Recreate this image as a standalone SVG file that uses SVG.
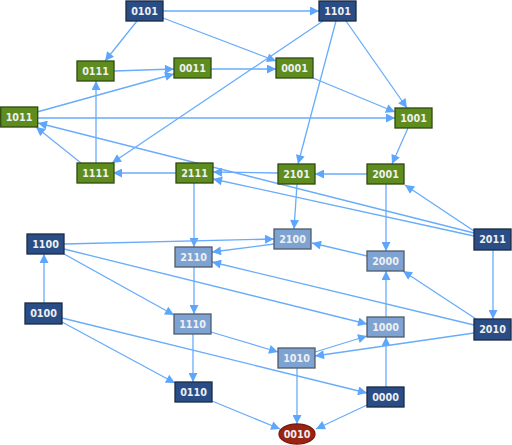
<svg xmlns="http://www.w3.org/2000/svg" width="512" height="445" viewBox="0 0 512 445">
<style>
.e{stroke:#68acfb;stroke-width:1.3;fill:none;marker-end:url(#a)}
.n rect,.n ellipse{stroke-width:1.3}
.db rect{fill:#2b4d85;stroke:#1a2a44}
.gr rect{fill:#5f8c1e;stroke:#2f4a0e}
.lb rect{fill:#7ea3d2;stroke:#4f5b68}
.rd ellipse{fill:#9a2414;stroke:#7a1a0c}
text{font-family:"DejaVu Sans","Liberation Sans",sans-serif;font-size:9.6px;font-weight:bold;fill:#eef0f2;text-anchor:middle}
</style>
<defs>
<marker id="a" viewBox="0 0 10 10" refX="10" refY="5" markerWidth="10" markerHeight="9" orient="auto" markerUnits="userSpaceOnUse">
<path d="M0,0 L10,5 L0,10 z" fill="#5ea6fb"/>
</marker>
</defs>
<rect width="512" height="445" fill="#fff"/>
<g id="connectors">
<line class="e" x1="163" y1="11" x2="319" y2="11"/>
<line class="e" x1="137" y1="21" x2="105" y2="61"/>
<line class="e" x1="163" y1="18" x2="276" y2="61"/>
<line class="e" x1="323" y1="21" x2="112" y2="163"/>
<line class="e" x1="336" y1="21" x2="298" y2="164"/>
<line class="e" x1="346" y1="21" x2="407" y2="108"/>
<line class="e" x1="114" y1="71" x2="174" y2="69"/>
<line class="e" x1="211" y1="69" x2="276" y2="69"/>
<line class="e" x1="37" y1="112" x2="174" y2="74"/>
<line class="e" x1="37" y1="118" x2="395" y2="118"/>
<line class="e" x1="313" y1="78" x2="395" y2="112"/>
<line class="e" x1="96" y1="163" x2="96" y2="81"/>
<line class="e" x1="81" y1="163" x2="36" y2="127"/>
<line class="e" x1="176" y1="173" x2="113" y2="173"/>
<line class="e" x1="474" y1="233" x2="38" y2="123"/>
<line class="e" x1="474" y1="236" x2="213" y2="179"/>
<line class="e" x1="278" y1="173" x2="213" y2="172"/>
<line class="e" x1="367" y1="174" x2="315" y2="174"/>
<line class="e" x1="408" y1="128" x2="392" y2="164"/>
<line class="e" x1="474" y1="231" x2="405" y2="185"/>
<line class="e" x1="386" y1="184" x2="386" y2="251"/>
<line class="e" x1="297" y1="184" x2="294" y2="229"/>
<line class="e" x1="194" y1="183" x2="194" y2="247"/>
<line class="e" x1="64" y1="244" x2="274" y2="239"/>
<line class="e" x1="274" y1="244" x2="212" y2="252"/>
<line class="e" x1="367" y1="256" x2="312" y2="243"/>
<line class="e" x1="474" y1="325" x2="212" y2="262"/>
<line class="e" x1="64" y1="254" x2="174" y2="315"/>
<line class="e" x1="64" y1="249" x2="367" y2="324"/>
<line class="e" x1="44" y1="303" x2="44" y2="254"/>
<line class="e" x1="62" y1="322" x2="175" y2="383"/>
<line class="e" x1="62" y1="318" x2="367" y2="393"/>
<line class="e" x1="194" y1="267" x2="194" y2="314"/>
<line class="e" x1="193" y1="334" x2="193" y2="382"/>
<line class="e" x1="211" y1="332" x2="278" y2="352"/>
<line class="e" x1="212" y1="401" x2="280" y2="429"/>
<line class="e" x1="297" y1="368" x2="297" y2="424"/>
<line class="e" x1="367" y1="405" x2="316" y2="429"/>
<line class="e" x1="386" y1="387" x2="386" y2="337"/>
<line class="e" x1="386" y1="317" x2="386" y2="271"/>
<line class="e" x1="476" y1="319" x2="403" y2="271"/>
<line class="e" x1="493" y1="250" x2="493" y2="319"/>
<line class="e" x1="474" y1="333" x2="315" y2="356"/>
<line class="e" x1="315" y1="352" x2="367" y2="336"/>
</g>
<g id="n0101" class="n db"><rect x="126" y="1" width="37" height="20"/><text x="144.5" y="14.5">0101</text></g>
<g id="n1101" class="n db"><rect x="319" y="1" width="37" height="20"/><text x="337.5" y="14.5">1101</text></g>
<g id="n0111" class="n gr"><rect x="77" y="61" width="37" height="20"/><text x="95.5" y="74.5">0111</text></g>
<g id="n0011" class="n gr"><rect x="174" y="58" width="37" height="20"/><text x="192.5" y="71.5">0011</text></g>
<g id="n0001" class="n gr"><rect x="276" y="58" width="37" height="20"/><text x="294.5" y="71.5">0001</text></g>
<g id="n1011" class="n gr"><rect x="0.7" y="107" width="37" height="20"/><text x="19" y="120.5">1011</text></g>
<g id="n1001" class="n gr"><rect x="395" y="108" width="37" height="20"/><text x="413.5" y="121.5">1001</text></g>
<g id="n1111" class="n gr"><rect x="77" y="163" width="37" height="20"/><text x="95.5" y="176.5">1111</text></g>
<g id="n2111" class="n gr"><rect x="176" y="163" width="37" height="20"/><text x="194.5" y="176.5">2111</text></g>
<g id="n2101" class="n gr"><rect x="278" y="164" width="37" height="20"/><text x="296.5" y="177.5">2101</text></g>
<g id="n2001" class="n gr"><rect x="367" y="164" width="37" height="20"/><text x="385.5" y="177.5">2001</text></g>
<g id="n1100" class="n db"><rect x="27" y="234" width="37" height="20"/><text x="45.5" y="247.5">1100</text></g>
<g id="n2100" class="n lb"><rect x="274" y="229" width="37" height="20"/><text x="292.5" y="242.5">2100</text></g>
<g id="n2110" class="n lb"><rect x="175" y="247" width="37" height="20"/><text x="193.5" y="260.5">2110</text></g>
<g id="n2000" class="n lb"><rect x="367" y="251" width="37" height="20"/><text x="385.5" y="264.5">2000</text></g>
<g id="n2011" class="n db"><rect x="474" y="229" width="37" height="21"/><text x="492.5" y="243">2011</text></g>
<g id="n0100" class="n db"><rect x="25" y="303" width="37" height="21"/><text x="43.5" y="317">0100</text></g>
<g id="n1110" class="n lb"><rect x="174" y="314" width="37" height="20"/><text x="192.5" y="327.5">1110</text></g>
<g id="n1000" class="n lb"><rect x="367" y="317" width="37" height="20"/><text x="385.5" y="330.5">1000</text></g>
<g id="n2010" class="n db"><rect x="474" y="319" width="37" height="21"/><text x="492.5" y="333">2010</text></g>
<g id="n1010" class="n lb"><rect x="278" y="348" width="37" height="20"/><text x="296.5" y="361.5">1010</text></g>
<g id="n0110" class="n db"><rect x="175" y="382" width="37" height="20"/><text x="193.5" y="395.5">0110</text></g>
<g id="n0000" class="n db"><rect x="367" y="387" width="37" height="20"/><text x="385.5" y="400.5">0000</text></g>
<g id="n0010" class="n rd"><ellipse cx="297" cy="434" rx="18" ry="10"/><text x="297" y="437.5">0010</text></g>
</svg>
